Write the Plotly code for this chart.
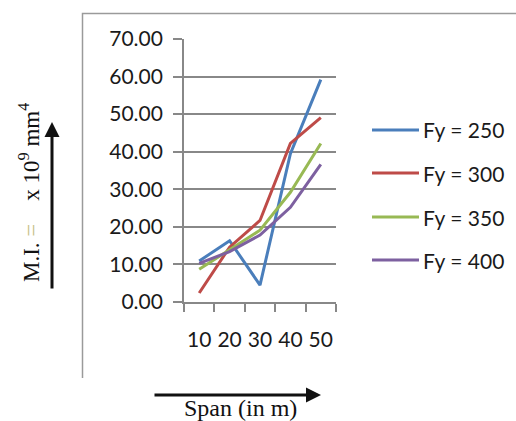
import plotly.graph_objects as go

# Span categories (m) and moment of inertia (x 10^9 mm^4) per yield strength
spans = ["10", "20", "30", "40", "50"]
fy250 = [10.9, 16.3, 4.5, 39.5, 59.2]
fy300 = [2.4, 14.6, 21.7, 42.2, 49.1]
fy350 = [8.7, 14.0, 19.1, 29.2, 42.2]
fy400 = [10.3, 13.4, 17.8, 25.2, 36.6]
series_names = ["Fy = 250", "Fy = 300", "Fy = 350", "Fy = 400"]
series_values = [fy250, fy300, fy350, fy400]
series_colors = ["#4A7EBB", "#BE4B48", "#98B954", "#7D60A0"]
y_ticks = [0, 10, 20, 30, 40, 50, 60, 70]

W, H = 516, 421


def px(x):
    return x / W


def py(y):
    return 1 - y / H


fig = go.Figure()
for name, vals, col in zip(series_names, series_values, series_colors):
    fig.add_trace(go.Scatter(x=spans, y=vals, mode="lines", name=name,
                             line=dict(color=col, width=3),
                             showlegend=False))

tick_font = dict(family="Lato", size=21, color="#1a1a1a")
serif = "Liberation Serif"

fig.update_layout(
    width=W, height=H,
    margin=dict(l=0, r=0, t=0, b=0),
    paper_bgcolor="white", plot_bgcolor="white",
    xaxis=dict(domain=[px(184), px(336)], type="category", automargin=False,
               tickson="boundaries", ticks="outside", ticklen=8,
               tickcolor="#888888", tickwidth=1.8, tickangle=0,
               showline=True, linecolor="#888888", linewidth=1.8,
               showgrid=False, tickfont=tick_font, ticklabelstandoff=18,
               range=[-0.5, 4.5]),
    yaxis=dict(domain=[py(302), py(39)], range=[0, 70], automargin=False,
               tickvals=y_ticks, tickformat=".2f",
               ticks="outside", ticklen=9, tickcolor="#888888", tickwidth=1.8,
               showline=True, linecolor="#888888", linewidth=1.8,
               showgrid=True, gridcolor="#888888", gridwidth=1.8,
               zeroline=False, tickfont=tick_font, ticklabelstandoff=6),
)

shapes = []
annotations = []

# Chart-area frame (left and top edges)
shapes.append(dict(type="path", xref="paper", yref="paper",
                   path=f"M {px(82.5)} {py(378)} L {px(82.5)} {py(13.5)} L {px(516)} {py(13.5)}",
                   line=dict(color="#9a9a9a", width=1.5)))

# Legend drawn as line samples with labels
leg_y = [130, 173, 217, 260]
for name, col, ly in zip(series_names, series_colors, leg_y):
    shapes.append(dict(type="line", xref="paper", yref="paper",
                       x0=px(372), x1=px(419), y0=py(ly), y1=py(ly),
                       line=dict(color=col, width=3)))
    annotations.append(dict(xref="paper", yref="paper", x=px(421), y=py(ly),
                            xanchor="left", yanchor="middle", showarrow=False,
                            text=name, font=dict(family="Lato", size=21, color="#1a1a1a")))

# Axis titles with direction arrows
annotations.append(dict(xref="paper", yref="paper", x=px(29), y=py(193),
                        xanchor="center", yanchor="middle", showarrow=False,
                        textangle=-90,
                        text="M.I. <span style='color:#c8bf8a'>=</span>&nbsp;&nbsp;&nbsp; x 10<sup>9</sup> mm<sup>4</sup>",
                        font=dict(family=serif, size=23, color="#111")))
annotations.append(dict(xref="paper", yref="paper", x=px(52), y=py(122),
                        ax=0, ay=168, axref="pixel", ayref="pixel",
                        showarrow=True, arrowhead=2, arrowsize=1,
                        arrowwidth=3, arrowcolor="#111", text=""))
annotations.append(dict(xref="paper", yref="paper", x=px(240), y=py(408),
                        xanchor="center", yanchor="middle", showarrow=False,
                        text="Span (in m)",
                        font=dict(family=serif, size=24, color="#111")))
annotations.append(dict(xref="paper", yref="paper", x=px(321), y=py(395),
                        ax=-168, ay=0, axref="pixel", ayref="pixel",
                        showarrow=True, arrowhead=2, arrowsize=1,
                        arrowwidth=3, arrowcolor="#111", text=""))

fig.update_layout(shapes=shapes, annotations=annotations)
fig.write_html("out.html")
